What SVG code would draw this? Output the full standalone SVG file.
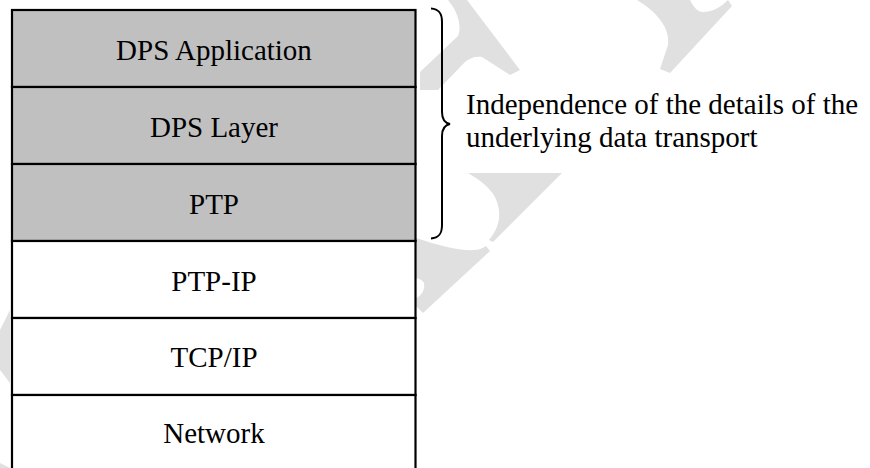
<svg xmlns="http://www.w3.org/2000/svg" width="870" height="468" viewBox="0 0 870 468">
  <style>
    .wm { fill: #e0e0e0; stroke: none; }
    .layer { stroke: #000; stroke-width: 2.2; }
    .shaded { fill: #c0c0c0; }
    .plain { fill: #ffffff; }
    .lbl { font-family: "Liberation Serif", "Times New Roman", serif; font-size: 29px; fill: #000; }
    .mid { text-anchor: middle; }
    .brace { fill: none; stroke: #000; stroke-width: 2; }
  </style>
  <rect width="870" height="468" fill="#ffffff"/>
  <g id="watermark">
    <path class="wm" d="M448,0 L467,0 L520,70 L510,75 L482,57 C475,56 470,58 465,62 L438,90 L420,90 L420,72 L458,36 C462,26 458,12 448,0 Z"/>
    <path class="wm" d="M637,0 L690,0 C694,8 698,12 703,12 C712,12 720,8 728,0 L732,6 L670,73 L660,69 L668,45 C670,30 660,14 637,0 Z"/>
    <path class="wm" d="M468,173 L562,173 L493,242 L489,240 C497,230 500,222 499,210 C497,196 490,186 468,173 Z"/>
    <path class="wm" d="M416,238 C440,246 460,251 474,250 C479,250 483,248 486,246 L490,251 L423,313 L416,306 L416,298 C423,295 425,288 424,283 C422,280 420,279 416,278 Z"/>
    <polygon class="wm" points="0,330 10,310 10,383 0,370"/>
    <polygon class="wm" points="0,463 10,468 0,468"/>
  </g>
  <g id="layer-dps-application">
    <rect class="layer shaded" x="12" y="10" width="403.5" height="77"/>
    <text class="lbl mid" x="214" y="60">DPS Application</text>
  </g>
  <g id="layer-dps-layer">
    <rect class="layer shaded" x="12" y="87" width="403.5" height="77"/>
    <text class="lbl mid" x="214" y="137">DPS Layer</text>
  </g>
  <g id="layer-ptp">
    <rect class="layer shaded" x="12" y="164" width="403.5" height="77"/>
    <text class="lbl mid" x="214" y="214">PTP</text>
  </g>
  <g id="layer-ptp-ip">
    <rect class="layer plain" x="12" y="241" width="403.5" height="77"/>
    <text class="lbl mid" x="214" y="291">PTP-IP</text>
  </g>
  <g id="layer-tcp-ip">
    <rect class="layer plain" x="12" y="318" width="403.5" height="77"/>
    <text class="lbl mid" x="214" y="367">TCP/IP</text>
  </g>
  <g id="layer-network">
    <rect class="layer plain" x="12" y="395" width="403.5" height="80"/>
    <text class="lbl mid" x="214" y="443">Network</text>
  </g>
  <g id="connectors">
    <path class="brace" d="M431,8.5 C439,9 442,13 442,22 L442,112 C442,119 445,123 450,124 C445,125 442,129 442,136 L442,225 C442,234 439,238 431,238.5"/>
  </g>
  <g id="annotation">
    <text class="lbl" x="466" y="114">Independence of the details of the</text>
    <text class="lbl" x="466" y="147">underlying data transport</text>
  </g>
</svg>
